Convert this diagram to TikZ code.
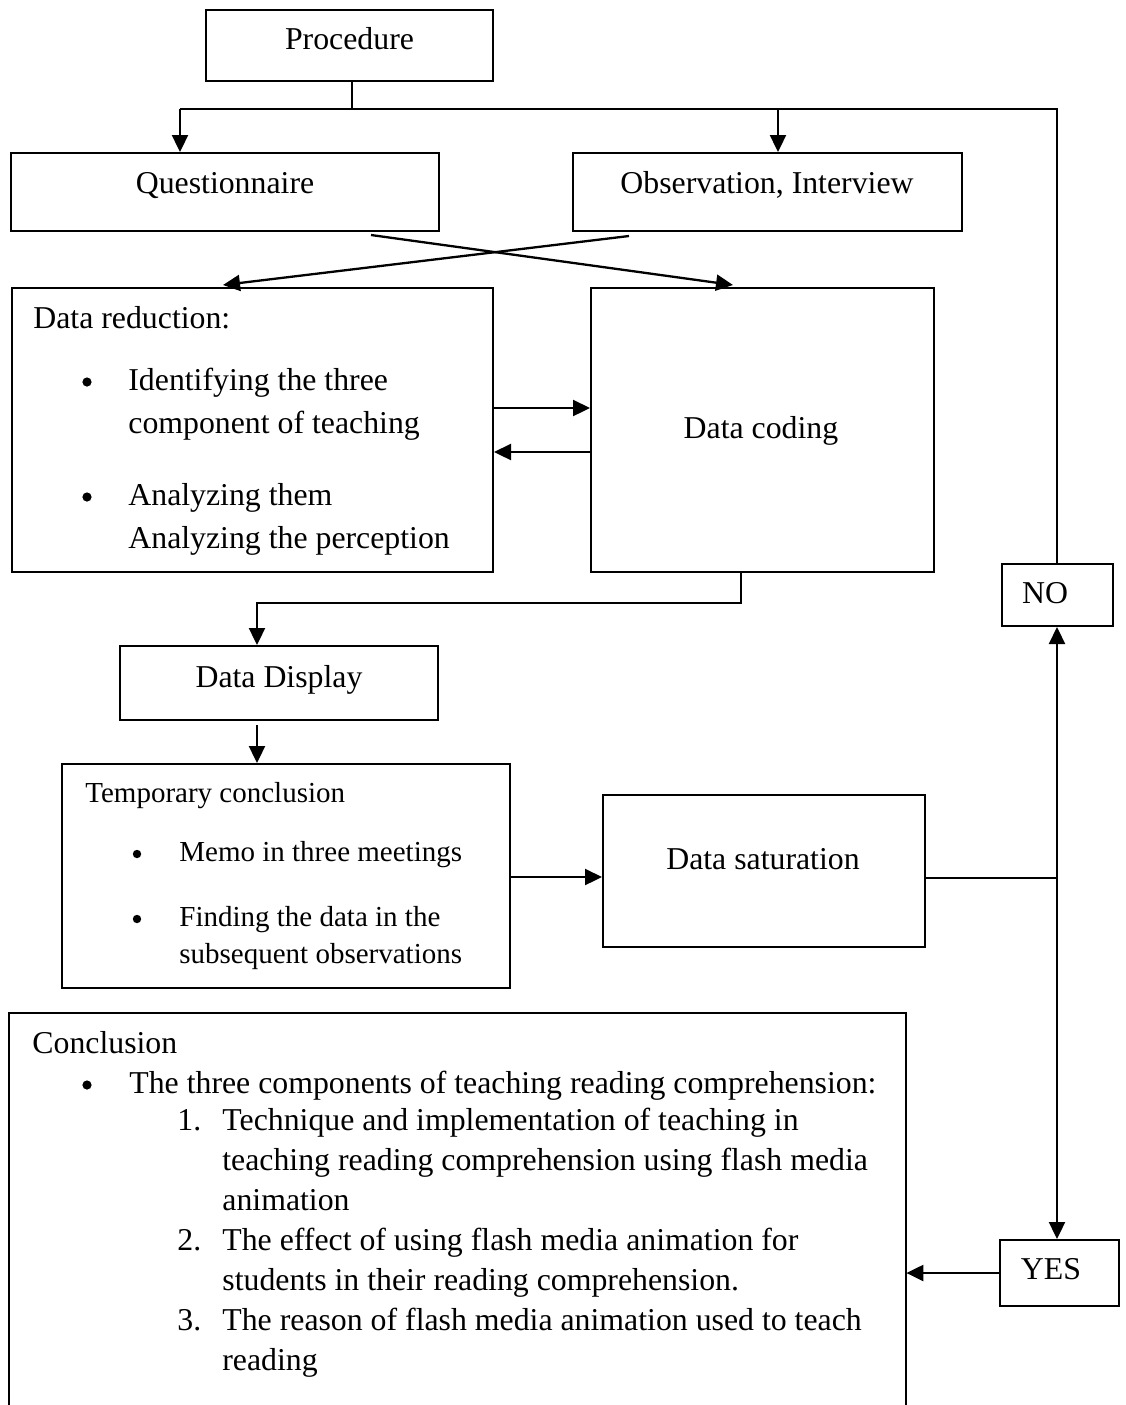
\documentclass[tikz,border=0pt]{standalone}
\usepackage{fontspec}
\setmainfont{Liberation Serif}
\usetikzlibrary{arrows.meta,fit}
\begin{document}
\begin{tikzpicture}[x=0.5pt,y=-0.5pt,
  box/.style={draw,line width=1pt,inner sep=0pt,rectangle},
  ctxt/.style={inner sep=0pt,anchor=base,font=\fontsize{15.9}{19}\selectfont},
  ltxt/.style={inner sep=0pt,anchor=base west,font=\fontsize{15.9}{19}\selectfont},
  stxt/.style={inner sep=0pt,anchor=base west,font=\fontsize{14.5}{17}\selectfont},
  bul/.style={circle,fill,inner sep=0pt,minimum size=4.6pt},
  sbul/.style={circle,fill,inner sep=0pt,minimum size=4.2pt},
  conn/.style={line width=1.15pt},
  arr/.style={conn,-{Triangle[length=8.5pt,width=8pt]}}]
\useasboundingbox (0,0) rectangle (1126,1405);

% boxes
\node[box,fit={(206,10) (493,81)}] (proc) {};
\node[box,fit={(11,153) (439,231)}] (quest) {};
\node[box,fit={(573,153) (962,231)}] (obs) {};
\node[box,fit={(12,288) (493,572)}] (red) {};
\node[box,fit={(591,288) (934,572)}] (cod) {};
\node[box,fit={(120,646) (438,720)}] (disp) {};
\node[box,fit={(62,764) (510,988)}] (temp) {};
\node[box,fit={(603,795) (925,947)}] (sat) {};
\node[box,fit={(1002,564) (1113,626)}] (no) {};
\node[box,fit={(1000,1240) (1119,1306)}] (yes) {};
\node[inner sep=0pt,fit={(9,1013) (906,1412)}] (concl) {};
\draw[line width=1pt] (concl.south west) -- (concl.north west) -- (concl.north east) -- (concl.south east);

% single labels
\node[ctxt] (procT) at (349.5,49) {Procedure};
\node[ctxt] (questT) at (225,193) {Questionnaire};
\node[ctxt] (obsT) at (767,193) {Observation, Interview};
\node[ctxt] (codT) at (761,438) {Data coding};
\node[ctxt] (dispT) at (279,687) {Data Display};
\node[ctxt] (satT) at (763,869) {Data saturation};
\node[ctxt] (noT) at (1045,603) {NO};
\node[ctxt] (yesT) at (1051,1279) {YES};

% data reduction
\node[ltxt] (r0) at (33,328) {Data reduction:};
\node[bul] (rb1) at (87,382) {};
\node[ltxt] (r1) at (128,390) {Identifying the three};
\node[ltxt] (r2) at (128,433) {component of teaching};
\node[bul] (rb2) at (87,497) {};
\node[ltxt] (r3) at (128,505) {Analyzing them};
\node[ltxt] (r4) at (128,548) {Analyzing the perception};

% temporary conclusion
\node[stxt] (t0) at (85,802) {Temporary conclusion};
\node[sbul] (tb1) at (137,854) {};
\node[stxt] (t1) at (179,861) {Memo in three meetings};
\node[sbul] (tb2) at (137,919) {};
\node[stxt] (t2) at (179,926) {Finding the data in the};
\node[stxt] (t3) at (179,963) {subsequent observations};

% conclusion
\node[ltxt] (c0) at (32,1053) {Conclusion};
\node[bul] (cb) at (87,1085) {};
\node[ltxt] (c1) at (129,1093) {The three components of teaching reading comprehension:};
\node[ltxt] (n1) at (177,1130) {1.};
\node[ltxt] (c2) at (222,1130) {Technique and implementation of teaching in};
\node[ltxt] (c3) at (222,1170) {teaching reading comprehension using flash media};
\node[ltxt] (c4) at (222,1210) {animation};
\node[ltxt] (n2) at (177,1250) {2.};
\node[ltxt] (c5) at (222,1250) {The effect of using flash media animation for};
\node[ltxt] (c6) at (222,1290) {students in their reading comprehension.};
\node[ltxt] (n3) at (177,1330) {3.};
\node[ltxt] (c7) at (222,1330) {The reason of flash media animation used to teach};
\node[ltxt] (c8) at (222,1370) {reading};

% junction coordinates
\coordinate (jp) at (352,109);
\coordinate (jl) at (180,109);
\coordinate (jo) at (778,109);
\coordinate (jr) at (1057,109);
\coordinate (xq) at (371,235);
\coordinate (xqe) at (733,285);
\coordinate (xo) at (629,236);
\coordinate (xoe) at (223,285);
\coordinate (cd) at (741,603);
\coordinate (dd) at (257,603);
\coordinate (ts) at (0,877);
\coordinate (js) at (1057,878);

% connectors
\draw[conn] (proc.south -| jp) -- (jp);
\draw[conn] (jl) -- (jr) -- (no.north -| jr);
\draw[arr] (jl) -- (quest.north -| jl);
\draw[arr] (jo) -- (obs.north -| jo);
\draw[arr] (xq) -- (xqe);
\draw[arr] (xo) -- (xoe);
\draw[arr] ([yshift=11pt]red.east) -- ([yshift=11pt]cod.west);
\draw[arr] ([yshift=-11pt]cod.west) -- ([yshift=-11pt]red.east);
\draw[arr] (cod.south -| cd) -- (cd) -- (dd) -- (disp.north -| dd);
\draw[arr] ([yshift=-2pt]disp.south -| dd) -- (temp.north -| dd);
\draw[arr] (temp.east |- ts) -- (sat.west |- ts);
\draw[conn] (sat.east |- js) -- (js);
\draw[arr] (js) -- (no.south -| js);
\draw[arr] (js) -- (yes.north -| js);
\draw[arr] (yes.west) -- (concl.east |- yes.west);
\end{tikzpicture}
\end{document}
